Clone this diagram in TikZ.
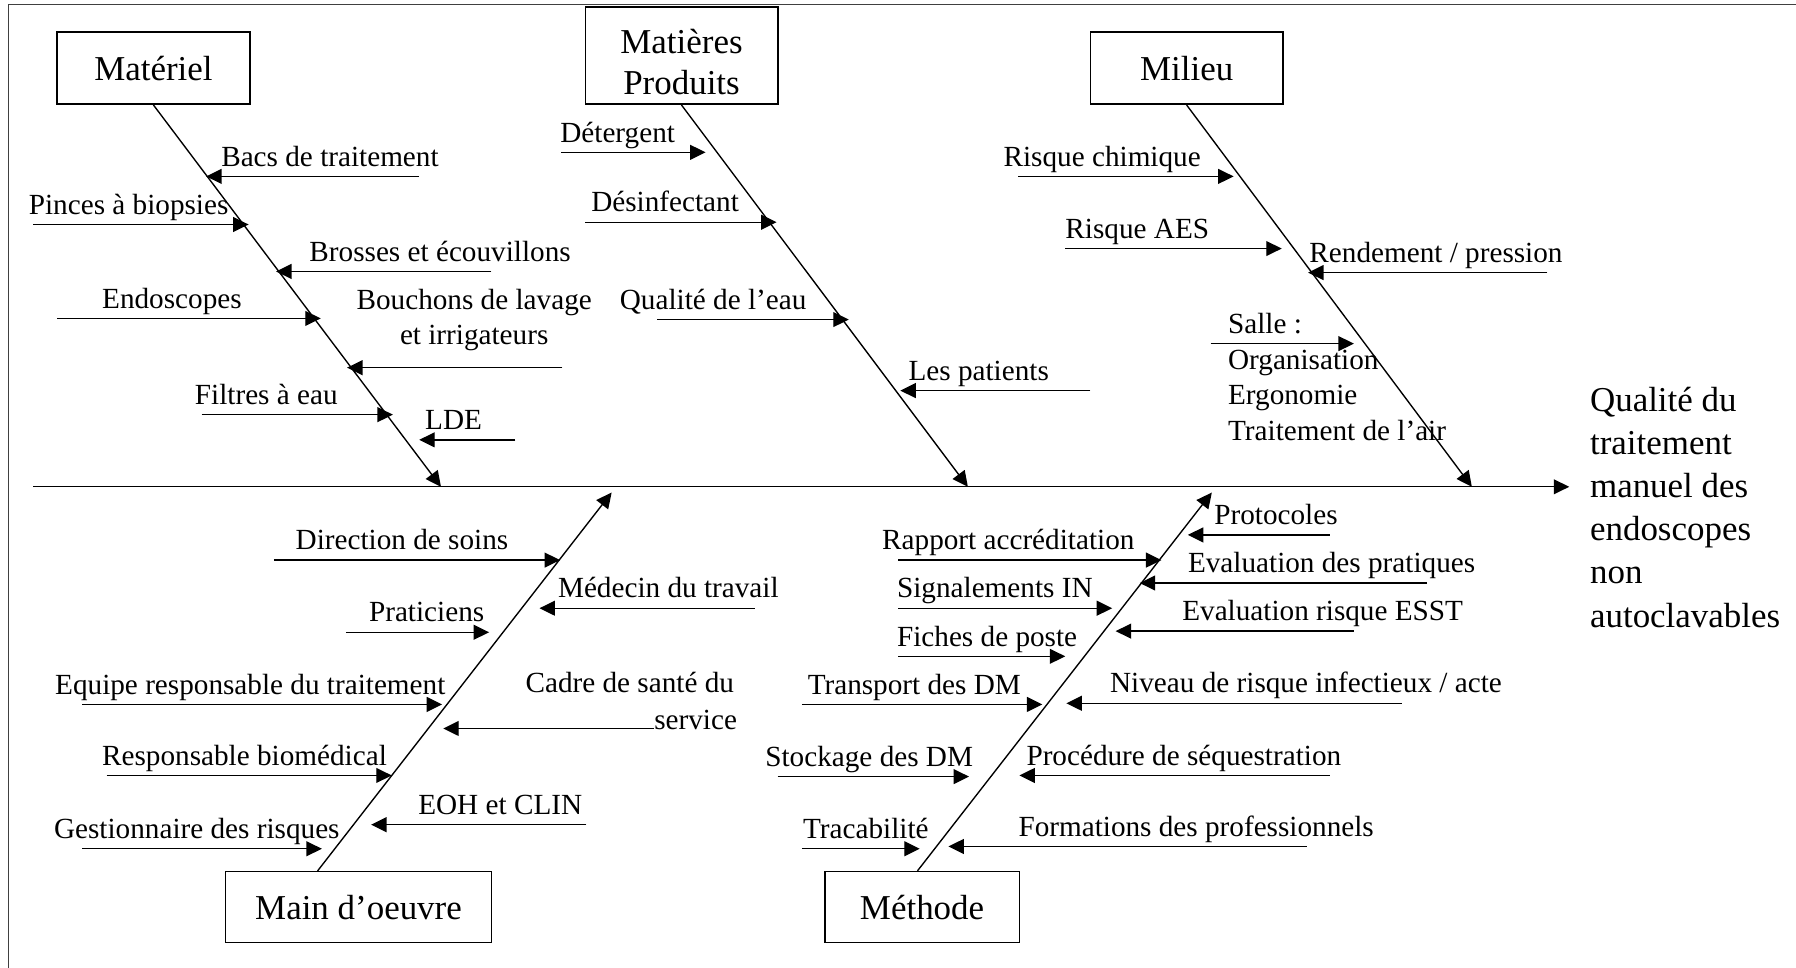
\documentclass[tikz,border=0pt]{standalone}
\usepackage{fontspec}
\setmainfont{Liberation Serif}
\usetikzlibrary{arrows.meta,calc}
\tikzset{
  catbox/.style={draw, line width=1.4pt, inner sep=0pt, font=\fontsize{30.5}{36}\selectfont, align=center},
  boxtxt/.style={inner sep=0pt, font=\fontsize{30.5}{36}\selectfont, align=center},
  spine/.style={line width=1.2pt, -{Triangle[length=13.5pt,width=13pt]}},
  rib/.style={line width=1.2pt, -{Triangle[length=13.5pt,width=13pt]}},
  lbl/.style={inner sep=0pt, font=\fontsize{25.5}{31.3}\selectfont},
  restxt/.style={inner sep=0pt, font=\fontsize{30.5}{37.6}\selectfont, align=left},
  frameline/.style={line width=1.4pt, draw=black!75},
}
\newcommand\ribarrow[4]{\coordinate (#1a) at (#2,#4); \coordinate (#1b) at (#3,#4); \draw[rib] (#1a) -- (#1b);}
\begin{document}
\begin{tikzpicture}[x=1pt,y=-1pt]
\useasboundingbox (0,0) rectangle (1568,845);
% frame
\coordinate (f1) at (7.5,845);
\coordinate (f2) at (7.5,4);
\coordinate (f3) at (1568,4);
\draw[frameline] (f1) -- (f2) -- (f3);
% category boxes
\node[catbox, minimum width=168pt, minimum height=63pt] (mat) at (134,59.5) {Matériel};
\node[catbox, minimum width=168pt, minimum height=85pt] (mp) at (595,48.5) {};
\node[boxtxt, anchor=north] (mpt) at (595,25) {Matières\\Produits};
\node[catbox, minimum width=168pt, minimum height=63pt] (mil) at (1036,59.5) {Milieu};
\node[catbox, minimum width=232pt, minimum height=62pt] (mo) at (313,792) {Main d’oeuvre};
\node[catbox, minimum width=170pt, minimum height=62pt] (meth) at (805,792) {Méthode};
% main line
\coordinate (m0) at (29,425);
\coordinate (m1) at (1370,425);
\draw[spine] (m0) -- (m1);
\node[restxt, anchor=north west] (res) at (1388,338) {Qualité du\\traitement\\manuel des\\endoscopes\\non\\autoclavables};
% spines
\coordinate (e1) at (385,425);
\coordinate (e2) at (845,425);
\coordinate (e3) at (1285,425);
\coordinate (s4) at ($(mo.north west)+(81,0)$);
\coordinate (t4) at (534,430);
\coordinate (s5) at ($(meth.north)+(-4,0)$);
\coordinate (t5) at (1058,430);
\draw[spine] (mat.south) -- (e1);
\draw[spine] (mp.south) -- (e2);
\draw[spine] (mil.south) -- (e3);
\draw[spine] (s4) -- (t4);
\draw[spine] (s5) -- (t5);
% Materiel ribs
\ribarrow{r1}{366}{180}{154}
\node[lbl, anchor=base west] (l1) at (193,145) {Bacs de traitement};
\ribarrow{r2}{29}{217}{196}
\node[lbl, anchor=base west] (l2) at (25,187) {Pinces à biopsies};
\ribarrow{r3}{429}{241}{237}
\node[lbl, anchor=base west] (l3) at (270,228) {Brosses et écouvillons};
\ribarrow{r4}{50}{280}{278}
\node[lbl, anchor=base west] (l4) at (89,269) {Endoscopes};
\ribarrow{r5}{491}{303}{321}
\node[lbl, anchor=north, align=center] (l5) at (414,252) {Bouchons de lavage\\et irrigateurs};
\ribarrow{r6}{176}{343}{362}
\node[lbl, anchor=base west] (l6) at (170,353) {Filtres à eau};
\ribarrow{r7}{450}{366}{384}
\node[lbl, anchor=base west] (l7) at (371,375) {LDE};
% Matieres ribs
\ribarrow{r8}{490}{616}{133}
\node[lbl, anchor=base west] (l8) at (489,124) {Détergent};
\ribarrow{r9}{511}{678}{194}
\node[lbl, anchor=base west] (l9) at (516,185) {Désinfectant};
\ribarrow{r10}{574}{741}{279}
\node[lbl, anchor=base west] (l10) at (541,270) {Qualité de l’eau};
\ribarrow{r11}{952}{786}{341}
\node[lbl, anchor=base west] (l11) at (793,332) {Les patients};
% Milieu ribs
\ribarrow{r12}{889}{1077}{154}
\node[lbl, anchor=base west] (l12) at (876,145) {Risque chimique};
\ribarrow{r13}{930}{1119}{217}
\node[lbl, anchor=base west] (l13) at (930,208) {Risque AES};
\ribarrow{r14}{1351}{1142}{238}
\node[lbl, anchor=base west] (l14) at (1143,229) {Rendement / pression};
\ribarrow{r15}{1057}{1182}{300}
\node[lbl, anchor=north west, align=left] (l15) at (1072,273) {Salle :\\Organisation\\Ergonomie\\Traitement de l’air};
% Main d'oeuvre ribs
\ribarrow{r16}{239}{489}{489}
\node[lbl, anchor=base west] (l16) at (258,480) {Direction de soins};
\ribarrow{r17}{659}{471}{531}
\node[lbl, anchor=base west] (l17) at (487,522) {Médecin du travail};
\ribarrow{r18}{302}{427}{552}
\node[lbl, anchor=base west] (l18) at (322,543) {Praticiens};
\ribarrow{r19}{72}{386}{615}
\node[lbl, anchor=base west] (l19) at (48,606) {Equipe responsable du traitement};
\ribarrow{r20}{571}{387}{636}
\node[lbl, anchor=base east] (l20) at (641,605) {Cadre de santé du};
\node[lbl, anchor=base west] (l20b) at (571,637) {service};
\ribarrow{r21}{93}{342}{677}
\node[lbl, anchor=base west] (l21) at (89,668) {Responsable biomédical};
\ribarrow{r22}{512}{324}{720}
\node[lbl, anchor=base west] (l22) at (365,711) {EOH et CLIN};
\ribarrow{r23}{72}{281}{741}
\node[lbl, anchor=base west] (l23) at (47,732) {Gestionnaire des risques};
% Methode ribs
\ribarrow{r24}{784}{1014}{489}
\node[lbl, anchor=base west] (l24) at (770,480) {Rapport accréditation};
\ribarrow{r25}{784}{971}{531}
\node[lbl, anchor=base west] (l25) at (783,522) {Signalements IN};
\ribarrow{r26}{784}{930}{573}
\node[lbl, anchor=base west] (l26) at (783,564) {Fiches de poste};
\ribarrow{r27}{700}{910}{615}
\node[lbl, anchor=base west] (l27) at (705,606) {Transport des DM};
\ribarrow{r28}{679}{846}{678}
\node[lbl, anchor=base west] (l28) at (668,669) {Stockage des DM};
\ribarrow{r29}{700}{803}{741}
\node[lbl, anchor=base west] (l29) at (701,732) {Tracabilité};
\ribarrow{r30}{1161}{1037}{467}
\node[lbl, anchor=base west] (l30) at (1060,458) {Protocoles};
\ribarrow{r31}{1246}{995}{509}
\node[lbl, anchor=base west] (l31) at (1037,500) {Evaluation des pratiques};
\ribarrow{r32}{1182}{974}{551}
\node[lbl, anchor=base west] (l32) at (1032,542) {Evaluation risque ESST};
\ribarrow{r33}{1224}{931}{614}
\node[lbl, anchor=base west] (l33) at (969,605) {Niveau de risque infectieux / acte};
\ribarrow{r34}{1161}{890}{677}
\node[lbl, anchor=base west] (l34) at (896,668) {Procédure de séquestration};
\ribarrow{r35}{1141}{828}{739}
\node[lbl, anchor=base west] (l35) at (889,730) {Formations des professionnels};
\end{tikzpicture}
\end{document}
